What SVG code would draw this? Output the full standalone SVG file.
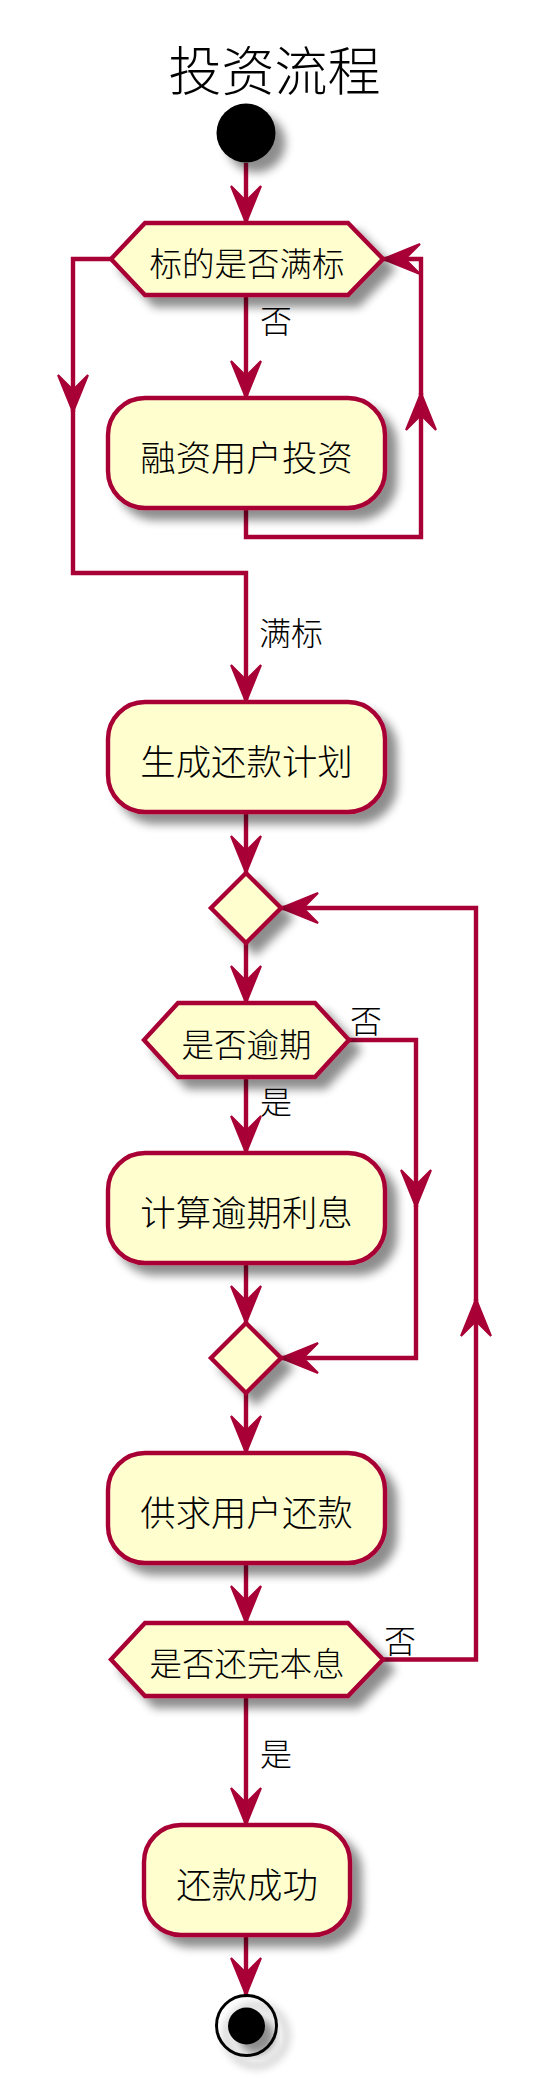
<svg xmlns="http://www.w3.org/2000/svg" width="549" height="2085" viewBox="0 0 549 2085">
<defs>
<style>
.node{fill:#FEFECE;stroke:#A80036;stroke-width:4.4}
.edge{fill:none;stroke:#A80036;stroke-width:4.4}
.t{font-family:"Noto Sans CJK SC","Noto Sans CJK JP",sans-serif;font-weight:300;fill:#000}
.box{font-size:35.4px;text-anchor:middle}
.hex{font-size:32.5px;text-anchor:middle}
.lbl{font-size:32px}
.title{font-size:53px;text-anchor:middle}
</style>
<filter id="sh" x="-30%" y="-30%" width="170%" height="170%">
<feGaussianBlur in="SourceAlpha" stdDeviation="5"/>
<feOffset dx="10" dy="10"/>
<feComponentTransfer><feFuncA type="linear" slope="0.45"/></feComponentTransfer>
<feMerge><feMergeNode/><feMergeNode in="SourceGraphic"/></feMerge>
</filter>
<marker id="ah" markerUnits="userSpaceOnUse" viewBox="-40 -18 42 36" refX="0" refY="0" markerWidth="42" markerHeight="36" orient="auto" overflow="visible">
<path d="M0,0 L-37,-15 L-22,0 L-37,15 Z" fill="#A80036" stroke="#A80036" stroke-width="2"/>
</marker>
</defs>
<rect width="549" height="2085" fill="#FFFFFF"/>
<text class="t title" x="274.5" y="91">投资流程</text>

<g id="connectors">
<path class="edge" d="M246,163 V223" marker-end="url(#ah)"/>
<path class="edge" d="M246,295 V398" marker-end="url(#ah)"/>
<path class="edge" d="M111,259 H73 V412" marker-end="url(#ah)"/>
<path class="edge" d="M73,410 V573 H246 V702" marker-end="url(#ah)"/>
<path class="edge" d="M246,508 V537 H421 V393" marker-end="url(#ah)"/>
<path class="edge" d="M421,395 V259 H383" marker-end="url(#ah)"/>
<path class="edge" d="M246,812 V873" marker-end="url(#ah)"/>
<path class="edge" d="M246,943 V1003" marker-end="url(#ah)"/>
<path class="edge" d="M349,1040 H416 V1207" marker-end="url(#ah)"/>
<path class="edge" d="M416,1205 V1358 H281" marker-end="url(#ah)"/>
<path class="edge" d="M246,1077 V1153" marker-end="url(#ah)"/>
<path class="edge" d="M246,1263 V1323" marker-end="url(#ah)"/>
<path class="edge" d="M246,1393 V1453" marker-end="url(#ah)"/>
<path class="edge" d="M246,1563 V1623" marker-end="url(#ah)"/>
<path class="edge" d="M383,1659.5 H476 V1299" marker-end="url(#ah)"/>
<path class="edge" d="M476,1301 V908 H281" marker-end="url(#ah)"/>
<path class="edge" d="M246,1696 V1825" marker-end="url(#ah)"/>
<path class="edge" d="M246,1935 V1995" marker-end="url(#ah)"/>
<text class="t lbl" x="260" y="333">否</text>
<text class="t lbl" x="259" y="645">满标</text>
<text class="t lbl" x="350" y="1033">否</text>
<text class="t lbl" x="260" y="1114">是</text>
<text class="t lbl" x="384" y="1653">否</text>
<text class="t lbl" x="260" y="1766">是</text>
</g>

<g id="start">
<circle cx="246" cy="133" r="29.5" fill="#000" filter="url(#sh)"/>
</g>

<g id="hex1">
<polygon class="node" filter="url(#sh)" points="111,259 145,223 348,223 383,259 348,295 145,295"/>
<text class="t hex" x="247" y="275.5">标的是否满标</text>
</g>

<g id="box1">
<rect class="node" filter="url(#sh)" x="108" y="398" width="277" height="110" rx="37" ry="37"/>
<text class="t box" x="246.5" y="470.5">融资用户投资</text>
</g>

<g id="box2">
<rect class="node" filter="url(#sh)" x="108" y="702" width="277" height="110" rx="37" ry="37"/>
<text class="t box" x="246.5" y="774.5">生成还款计划</text>
</g>

<g id="diamond1">
<polygon class="node" filter="url(#sh)" points="246,873 281,908 246,943 211,908"/>
</g>

<g id="hex2">
<polygon class="node" filter="url(#sh)" points="144,1040 178,1003 315,1003 349,1040 315,1077 178,1077"/>
<text class="t hex" x="246.5" y="1056.5">是否逾期</text>
</g>

<g id="box3">
<rect class="node" filter="url(#sh)" x="108" y="1153" width="277" height="110" rx="37" ry="37"/>
<text class="t box" x="246.5" y="1225.5">计算逾期利息</text>
</g>

<g id="diamond2">
<polygon class="node" filter="url(#sh)" points="246,1323 281,1358 246,1393 211,1358"/>
</g>

<g id="box4">
<rect class="node" filter="url(#sh)" x="108" y="1453" width="277" height="110" rx="37" ry="37"/>
<text class="t box" x="246.5" y="1525.5">供求用户还款</text>
</g>

<g id="hex3">
<polygon class="node" filter="url(#sh)" points="111,1659.5 145,1623 348,1623 383,1659.5 348,1696 145,1696"/>
<text class="t hex" x="247" y="1676">是否还完本息</text>
</g>

<g id="box5">
<rect class="node" filter="url(#sh)" x="144" y="1825" width="206" height="110" rx="37" ry="37"/>
<text class="t box" x="247" y="1897.5">还款成功</text>
</g>

<g id="end">
<circle cx="246.5" cy="2025.5" r="30" fill="none" stroke="#000" stroke-width="3" filter="url(#sh)"/>
<circle cx="246.5" cy="2026" r="18.5" fill="#000" filter="url(#sh)"/>
</g>
</svg>
